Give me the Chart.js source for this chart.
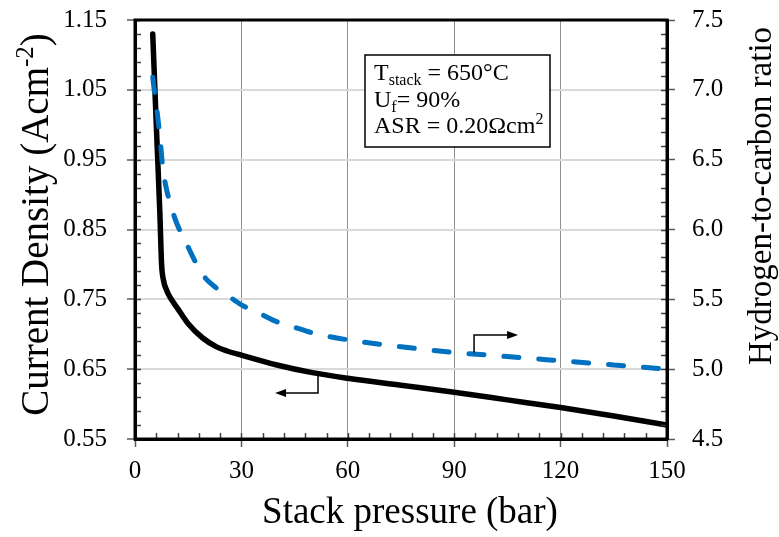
<!DOCTYPE html>
<html><head><meta charset="utf-8">
<script src="https://cdn.jsdelivr.net/npm/chart.js@4/dist/chart.umd.min.js"></script>
<style>html,body{margin:0;padding:0;background:#fff;}#wrap{width:779px;height:537px;}</style>
</head><body><div id="wrap"><canvas id="c" width="779" height="537"></canvas></div>
<script>
// ---- data ----
const pressureCD = [5, 6, 7, 7.5, 8, 9, 10, 12, 15, 19, 23, 26, 30, 40, 50, 60, 75, 90, 105, 120, 135, 150];
const currentDensity = [1.13, 1.00, 0.875, 0.80, 0.778, 0.762, 0.752, 0.737, 0.715, 0.695, 0.682, 0.676, 0.670, 0.656, 0.645, 0.637, 0.627, 0.617, 0.606, 0.595, 0.583, 0.570];
const pressureHC = [5, 5.5, 6.3, 7, 7.8, 8.7, 10, 12, 14, 16, 19, 23, 26, 30, 35, 40, 45, 50, 60, 75, 90, 105, 120, 135, 150];
const hcRatio = [7.09, 6.98, 6.83, 6.67, 6.45, 6.31, 6.18, 6.03, 5.93, 5.82, 5.68, 5.58, 5.53, 5.46, 5.40, 5.34, 5.30, 5.26, 5.21, 5.16, 5.12, 5.09, 5.06, 5.03, 5.00];
const xTicks = [0, 30, 60, 90, 120, 150];
const leftTicks = [0.55, 0.65, 0.75, 0.85, 0.95, 1.05, 1.15];
const rightTicks = [4.5, 5.0, 5.5, 6.0, 6.5, 7.0, 7.5];
const xMinorStep = 6, leftMinorStep = 0.02, rightMinorStep = 0.1;
const xTitle = 'Stack pressure (bar)';
const leftTitle = ['Current Density (Acm', '-2', ')'];
const rightTitle = 'Hydrogen-to-carbon ratio';
// arrows (data coordinates)
const leftArrow = {x: 51.6, yFrom: 0.645, yTo: 0.616, xTip: 39.5};
const rightArrow = {x: 95.6, yFrom: 5.12, yTo: 5.245, xTip: 108};

const SERIF = '"Liberation Serif", "Times New Roman", serif';
const tickFont = {family: SERIF, size: 25};

function noPad(s) { s.paddingTop = 0; s.paddingBottom = 0; s.paddingLeft = 0; s.paddingRight = 0; }

const decor = {
  id: 'decor',
  afterDraw(chart) {
    const {ctx, chartArea: a, scales: {x, y, y2}} = chart;
    ctx.save();
    // minor inward ticks
    ctx.strokeStyle = '#404040'; ctx.lineWidth = 1.5;
    ctx.beginPath();
    for (let v = xTicks[0]; v <= xTicks[xTicks.length-1] + 1e-9; v += xMinorStep) {
      const px = Math.round(x.getPixelForValue(v)) + 0.5;
      ctx.moveTo(px, a.bottom); ctx.lineTo(px, a.bottom - 6);
    }
    const l0 = leftTicks[0], l1 = leftTicks[leftTicks.length-1];
    for (let i = 0; l0 + i*leftMinorStep <= l1 + 1e-9; i++) {
      const py = Math.round(y.getPixelForValue(l0 + i*leftMinorStep)) + 0.5;
      ctx.moveTo(a.left, py); ctx.lineTo(a.left + 6, py);
    }
    const r0 = rightTicks[0], r1 = rightTicks[rightTicks.length-1];
    for (let i = 0; r0 + i*rightMinorStep <= r1 + 1e-9; i++) {
      const py = Math.round(y2.getPixelForValue(r0 + i*rightMinorStep)) + 0.5;
      ctx.moveTo(a.right, py); ctx.lineTo(a.right - 6, py);
    }
    ctx.stroke();
    // frame
    ctx.strokeStyle = '#000'; ctx.lineWidth = 3;
    ctx.strokeRect(a.left, a.top, a.right - a.left, a.bottom - a.top);

    // arrows
    function arrow(sx, yScale, o) {
      const px = sx.getPixelForValue(o.x), py1 = yScale.getPixelForValue(o.yFrom), py2 = yScale.getPixelForValue(o.yTo);
      const tip = sx.getPixelForValue(o.xTip);
      const dir = tip < px ? -1 : 1;
      ctx.strokeStyle = '#000'; ctx.lineWidth = 1.5;
      ctx.beginPath(); ctx.moveTo(px, py1); ctx.lineTo(px, py2); ctx.lineTo(tip - dir*9, py2); ctx.stroke();
      ctx.fillStyle = '#000';
      ctx.beginPath(); ctx.moveTo(tip, py2); ctx.lineTo(tip - dir*11, py2 - 4); ctx.lineTo(tip - dir*11, py2 + 4); ctx.closePath(); ctx.fill();
    }
    arrow(x, y, leftArrow);
    arrow(x, y2, rightArrow);

    // annotation box
    const bx = a.left + 230, by = a.top + 35, bw = 185, bh = 92;
    ctx.fillStyle = '#fff'; ctx.fillRect(bx, by, bw, bh);
    ctx.strokeStyle = '#000'; ctx.lineWidth = 1.5; ctx.strokeRect(bx, by, bw, bh);
    ctx.fillStyle = '#000'; ctx.textBaseline = 'alphabetic'; ctx.textAlign = 'left';
    const big = '24px ' + SERIF, small = '16px ' + SERIF;
    function runs(x0, yb, parts) {
      let cx = x0;
      for (const p of parts) {
        ctx.font = p.s ? small : big;
        ctx.fillText(p.t, cx, yb + (p.s === 'sub' ? 5 : p.s === 'sup' ? -9 : 0));
        cx += ctx.measureText(p.t).width;
      }
    }
    const tx = bx + 9;
    runs(tx, by + 25, [{t: 'T'}, {t: 'stack', s: 'sub'}, {t: ' = 650°C'}]);
    runs(tx, by + 51.5, [{t: 'U'}, {t: 'f', s: 'sub'}, {t: '= 90%'}]);
    runs(tx, by + 78, [{t: 'ASR = 0.20Ωcm'}, {t: '2', s: 'sup'}]);

    // axis titles
    ctx.fillStyle = '#000';
    ctx.font = '37px ' + SERIF; ctx.textAlign = 'center';
    ctx.fillText(xTitle, (a.left + a.right)/2 + 9, 523);
    // left title (rotated, with superscript)
    ctx.save();
    ctx.translate(48, (a.top + a.bottom)/2 - 5);
    ctx.rotate(-Math.PI/2);
    const lb = '39px ' + SERIF, ls = '25px ' + SERIF;
    ctx.font = lb; const w1 = ctx.measureText(leftTitle[0]).width, w3 = ctx.measureText(leftTitle[2]).width;
    ctx.font = ls; const w2 = ctx.measureText(leftTitle[1]).width;
    let cx = -(w1 + w2 + w3)/2; ctx.textAlign = 'left';
    ctx.font = lb; ctx.fillText(leftTitle[0], cx, 0); cx += w1;
    ctx.font = ls; ctx.fillText(leftTitle[1], cx, -15); cx += w2;
    ctx.font = lb; ctx.fillText(leftTitle[2], cx, 0);
    ctx.restore();
    // right title
    ctx.save();
    ctx.translate(771, 196);
    ctx.rotate(-Math.PI/2);
    ctx.font = '33px ' + SERIF; ctx.textAlign = 'center';
    ctx.fillText(rightTitle, 0, 0);
    ctx.restore();
    ctx.restore();
  }
};

new Chart(document.getElementById('c'), {
  type: 'line',
  data: {
    datasets: [
      {label: 'Hydrogen-to-carbon ratio', yAxisID: 'y2', order: 0,
       data: pressureHC.map((p, i) => ({x: p, y: hcRatio[i]})),
       borderColor: '#0070C0', borderWidth: 5, borderDash: [15, 20], borderCapStyle: 'round',
       pointRadius: 0, cubicInterpolationMode: 'monotone', fill: false},
      {label: 'Current Density', yAxisID: 'y', order: 1,
       data: pressureCD.map((p, i) => ({x: p, y: currentDensity[i]})),
       borderColor: '#000', borderWidth: 5.5, borderCapStyle: 'round', borderJoinStyle: 'round',
       pointRadius: 0, cubicInterpolationMode: 'monotone', fill: false}
    ]
  },
  options: {
    responsive: false, animation: false, devicePixelRatio: 1,
    layout: {padding: {top: 20, left: 0, right: 0, bottom: 0}},
    plugins: {legend: {display: false}, tooltip: {enabled: false}},
    scales: {
      x: {type: 'linear', min: xTicks[0], max: xTicks[xTicks.length-1],
          afterBuildTicks: s => { s.ticks = xTicks.map(v => ({value: v})); },
          ticks: {font: tickFont, color: '#000', padding: 9, maxRotation: 0, callback: v => String(v)},
          grid: {color: c => (c.tick && c.tick.value > xTicks[0] && c.tick.value < xTicks[xTicks.length-1]) ? '#8f8f8f' : 'rgba(0,0,0,0)',
                 lineWidth: 1, tickColor: '#595959', tickLength: 8, tickWidth: 1.5},
          border: {display: true, color: '#000', width: 3},
          afterFit: s => { s.height = 98; noPad(s); }},
      y: {type: 'linear', position: 'left', min: leftTicks[0], max: leftTicks[leftTicks.length-1],
          afterBuildTicks: s => { s.ticks = leftTicks.map(v => ({value: v})); },
          ticks: {font: tickFont, color: '#000', padding: 20, callback: v => Number(v).toFixed(2)},
          grid: {color: c => (c.tick && c.tick.value > leftTicks[0] + 1e-6 && c.tick.value < leftTicks[leftTicks.length-1] - 1e-6) ? '#d9d9d9' : 'rgba(0,0,0,0)',
                 lineWidth: 2, tickColor: '#595959', tickLength: 8, tickWidth: 1.5},
          border: {display: true, color: '#000', width: 3},
          afterFit: s => { s.width = 135; noPad(s); }},
      y2: {type: 'linear', position: 'right', min: rightTicks[0], max: rightTicks[rightTicks.length-1],
          afterBuildTicks: s => { s.ticks = rightTicks.map(v => ({value: v})); },
          ticks: {font: tickFont, color: '#000', padding: 17, callback: v => Number(v).toFixed(1)},
          grid: {drawOnChartArea: false, tickColor: '#595959', tickLength: 8, tickWidth: 1.5},
          border: {display: true, color: '#000', width: 3},
          afterFit: s => { s.width = 112; noPad(s); }}
    }
  },
  plugins: [decor]
});
</script></body></html>
